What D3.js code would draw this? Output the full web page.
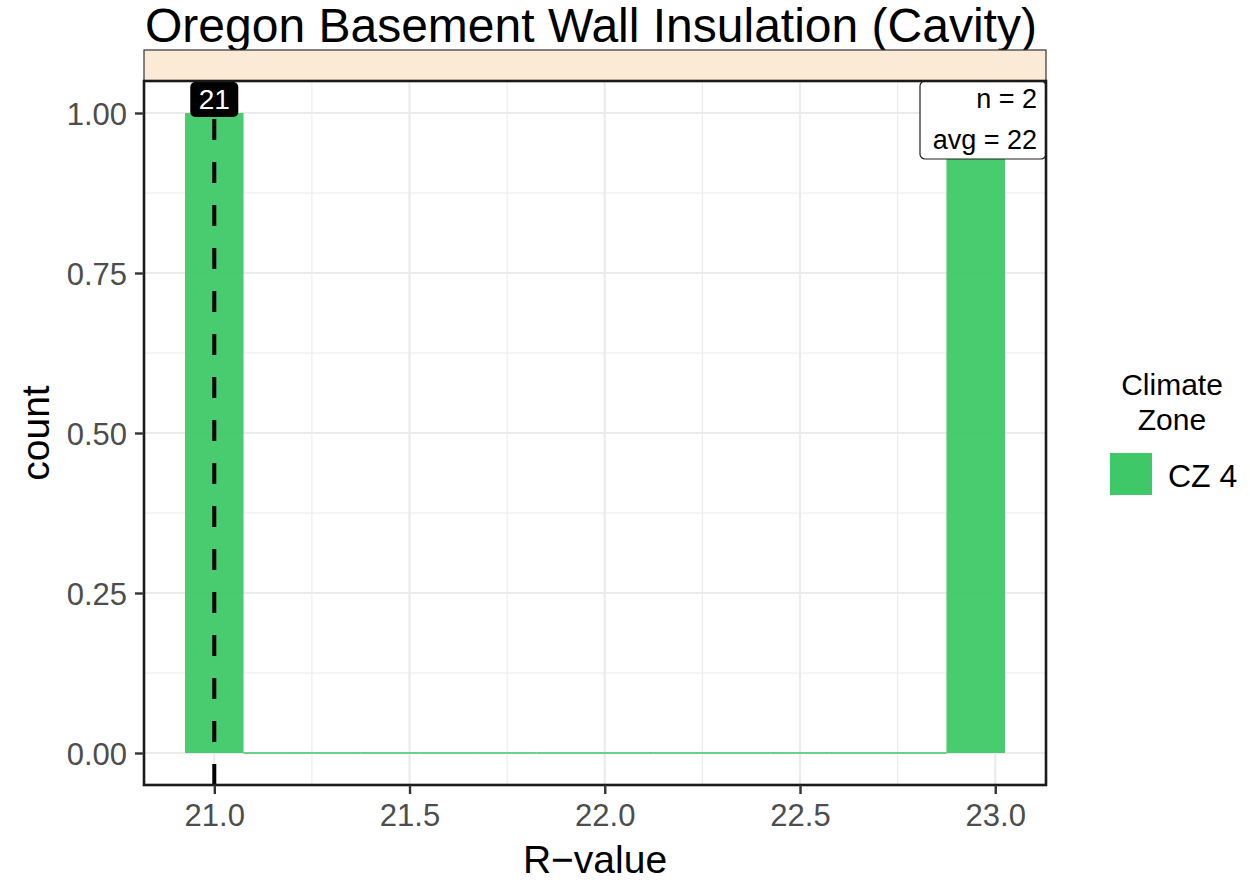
<!DOCTYPE html>
<html>
<head>
<meta charset="utf-8">
<script src="https://cdn.jsdelivr.net/npm/d3@7"></script>
<style>
  body { margin: 0; background: #fff; }
  svg { display: block; font-family: "Liberation Sans", Arial, sans-serif; }
</style>
</head>
<body>
<svg id="chart" width="1250" height="882"></svg>
<script>
// data
const observations = [21, 23];
const binStart = 20.925;
const binWidth = 0.15;
const binCounts = [1, 0, 0, 0, 0, 0, 0, 0, 0, 0, 0, 0, 0, 1];
const xTicks = [21.0, 21.5, 22.0, 22.5, 23.0];
const yTicks = [0, 0.25, 0.5, 0.75, 1.0];
const zones = ["CZ 4"];
const zoneColors = ["#3fc868"];
const medianValue = 21;

const panel = { left: 144, right: 1046, top: 81, bottom: 785 };
const svg = d3.select("#chart");

const bins = binCounts.map((c, i) => ({
  x0: binStart + i * binWidth,
  x1: binStart + (i + 1) * binWidth,
  count: c
}));

// scales with ggplot-like 5% expansion
const xMin = d3.min(bins, d => d.x0), xMax = d3.max(bins, d => d.x1);
const xPad = (xMax - xMin) * 0.05;
const x = d3.scaleLinear().domain([xMin - xPad, xMax + xPad]).range([panel.left, panel.right]);
const yMax = d3.max(bins, d => d.count);
const y = d3.scaleLinear().domain([-0.05 * yMax, yMax * 1.05]).range([panel.bottom, panel.top]);

// title
svg.append("text")
  .attr("x", panel.left + 1)
  .attr("y", 42)
  .style("font-size", "48px")
  .attr("fill", "#000")
  .text("Oregon Basement Wall Insulation (Cavity)");

// strip
svg.append("rect")
  .attr("x", panel.left)
  .attr("y", 50)
  .attr("width", panel.right - panel.left)
  .attr("height", panel.top - 50)
  .attr("fill", "#faead6")
  .attr("stroke", "#333")
  .attr("stroke-width", 1.2);

// grid
const grid = svg.append("g");
const xMinor = d3.range(0, xTicks.length - 1).map(i => (xTicks[i] + xTicks[i + 1]) / 2);
const yMinor = d3.range(0, yTicks.length - 1).map(i => (yTicks[i] + yTicks[i + 1]) / 2);

grid.selectAll(".xminor").data(xMinor).join("line")
  .attr("x1", d => x(d)).attr("x2", d => x(d))
  .attr("y1", panel.top).attr("y2", panel.bottom)
  .attr("stroke", "#ebebeb").attr("stroke-width", 1.1);
grid.selectAll(".yminor").data(yMinor).join("line")
  .attr("y1", d => y(d)).attr("y2", d => y(d))
  .attr("x1", panel.left).attr("x2", panel.right)
  .attr("stroke", "#ebebeb").attr("stroke-width", 1.1);
grid.selectAll(".xmajor").data(xTicks).join("line")
  .attr("x1", d => x(d)).attr("x2", d => x(d))
  .attr("y1", panel.top).attr("y2", panel.bottom)
  .attr("stroke", "#ebebeb").attr("stroke-width", 2.2);
grid.selectAll(".ymajor").data(yTicks).join("line")
  .attr("y1", d => y(d)).attr("y2", d => y(d))
  .attr("x1", panel.left).attr("x2", panel.right)
  .attr("stroke", "#ebebeb").attr("stroke-width", 2.2);

// histogram bars (zero-count bins show as a thin outline)
const barG = svg.append("g");
barG.selectAll("rect")
  .data(bins.filter(d => d.count > 0))
  .join("rect")
  .attr("x", d => x(d.x0))
  .attr("y", d => y(d.count))
  .attr("width", d => x(d.x1) - x(d.x0))
  .attr("height", d => y(0) - y(d.count))
  .attr("fill", zoneColors[0])
  .attr("fill-opacity", 0.95);
barG.selectAll("line")
  .data(bins.filter(d => d.count === 0))
  .join("line")
  .attr("x1", d => x(d.x0))
  .attr("x2", d => x(d.x1))
  .attr("y1", y(0))
  .attr("y2", y(0))
  .attr("stroke", zoneColors[0])
  .attr("stroke-width", 1.4);

// median dashed line
svg.append("line")
  .attr("x1", x(medianValue)).attr("x2", x(medianValue))
  .attr("y1", panel.bottom).attr("y2", panel.top)
  .attr("stroke", "#000")
  .attr("stroke-width", 4)
  .attr("stroke-dasharray", "21,22");

// median label
const lab = svg.append("g").attr("transform", `translate(${x(medianValue)},${panel.top + 1})`);
lab.append("rect")
  .attr("x", -24).attr("y", 0)
  .attr("width", 48).attr("height", 35)
  .attr("rx", 5)
  .attr("fill", "#000");
lab.append("text")
  .attr("x", 0).attr("y", 27)
  .attr("text-anchor", "middle")
  .attr("fill", "#fff")
  .style("font-size", "28px")
  .text(String(medianValue));

// n / avg box
const ann = svg.append("g");
ann.append("rect")
  .attr("x", 920).attr("y", panel.top)
  .attr("width", panel.right - 920).attr("height", 78)
  .attr("rx", 5)
  .attr("fill", "#fff")
  .attr("stroke", "#222")
  .attr("stroke-width", 1.2);
ann.append("text")
  .attr("x", 1037).attr("y", 108)
  .attr("text-anchor", "end")
  .style("font-size", "27px")
  .text(`n = ${observations.length}`);
ann.append("text")
  .attr("x", 1037).attr("y", 149)
  .attr("text-anchor", "end")
  .style("font-size", "27px")
  .text(`avg = ${d3.mean(observations)}`);

// panel border
svg.append("rect")
  .attr("x", panel.left).attr("y", panel.top)
  .attr("width", panel.right - panel.left)
  .attr("height", panel.bottom - panel.top)
  .attr("fill", "none")
  .attr("stroke", "#1a1a1a")
  .attr("stroke-width", 2.6);

// axes
const xAxis = svg.append("g")
  .attr("transform", `translate(0,${panel.bottom})`)
  .call(d3.axisBottom(x).tickValues(xTicks).tickFormat(d3.format(".1f")).tickSize(9).tickPadding(10));
const yAxis = svg.append("g")
  .attr("transform", `translate(${panel.left},0)`)
  .call(d3.axisLeft(y).tickValues(yTicks).tickFormat(d3.format(".2f")).tickSize(9).tickPadding(8));
[xAxis, yAxis].forEach(a => {
  a.select(".domain").remove();
  a.selectAll(".tick line").attr("stroke", "#333").attr("stroke-width", 2.4);
  a.selectAll(".tick text")
    .attr("fill", "#4d4d4d")
    .style("font-size", "31px")
    .style("font-family", "'Liberation Sans', Arial, sans-serif");
});
yAxis.selectAll(".tick text").attr("dy", "0.36em");

// axis titles
svg.append("text")
  .attr("x", (panel.left + panel.right) / 2)
  .attr("y", 873)
  .attr("text-anchor", "middle")
  .style("font-size", "39px")
  .text("R\u2212value");
svg.append("text")
  .attr("transform", `translate(49,${(panel.top + panel.bottom) / 2}) rotate(-90)`)
  .attr("text-anchor", "middle")
  .style("font-size", "39px")
  .text("count");

// legend
const leg = svg.append("g");
leg.append("text")
  .attr("x", 1172).attr("y", 395)
  .attr("text-anchor", "middle")
  .style("font-size", "30px")
  .text("Climate");
leg.append("text")
  .attr("x", 1172).attr("y", 430)
  .attr("text-anchor", "middle")
  .style("font-size", "30px")
  .text("Zone");
leg.selectAll(".key").data(zones).join("rect")
  .attr("x", 1110).attr("y", (d, i) => 453 + i * 45)
  .attr("width", 42).attr("height", 42)
  .attr("fill", (d, i) => zoneColors[i]);
leg.selectAll(".lab").data(zones).join("text")
  .attr("x", 1168).attr("y", (d, i) => 487 + i * 45)
  .style("font-size", "32px")
  .text(d => d);
</script>
</body>
</html>
